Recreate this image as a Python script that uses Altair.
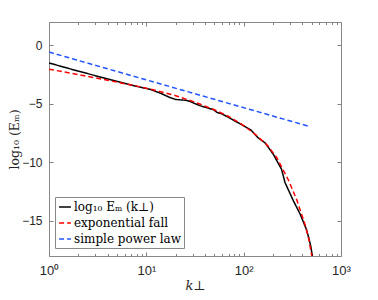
import altair as alt
import pandas as pd

# ---- data ----
black_k = [1, 2, 4.37, 7.94, 11, 14.1, 17.4, 20, 26, 28.2, 35.5, 49, 53.7, 59.6,
           77.6, 102, 117.5, 141, 166, 202, 245, 266, 324, 380, 440, 465, 490, 510]
black_y = [-1.50, -2.20, -2.95, -3.50, -3.76, -4.10, -4.45, -4.62, -4.70, -4.80,
           -5.15, -5.50, -5.75, -5.85, -6.36, -6.92, -7.20, -7.90, -8.33, -9.32,
           -10.59, -11.72, -13.28, -14.41, -15.70, -16.40, -17.20, -18.10]

red_k = [1, 2, 4, 8, 12.6, 20, 31.6, 50, 71, 100, 136, 178, 219, 288, 351, 427, 468, 501]
red_y = [-2.03, -2.50, -2.98, -3.48, -3.85, -4.30, -4.85, -5.50, -6.10, -6.85,
         -7.70, -8.60, -9.60, -11.50, -13.20, -15.30, -16.60, -18.00]

blue_k = [1, 470]
blue_y = [-0.57, -6.92]

names = ["log₁₀ Eₘ (k⊥)", "exponential fall", "simple power law"]
colors = ["#000000", "#ff0000", "#2255ff"]
dashes = [[1, 0], [5, 3], [5, 3]]

major_x = [1, 10, 100, 1000]
minor_x = [2, 3, 4, 5, 6, 7, 8, 9, 20, 30, 40, 50, 60, 70, 80, 90,
           200, 300, 400, 500, 600, 700, 800, 900]
y_ticks = [0, -5, -10, -15]

rows = []
for name, ks, ys in zip(names, [black_k, red_k, blue_k], [black_y, red_y, blue_y]):
    for i, (k, y) in enumerate(zip(ks, ys)):
        rows.append({"k": k, "y": y, "series": name, "i": i})
df = pd.DataFrame(rows)
df_axis = pd.DataFrame({"k": blue_k, "y": blue_y})

xscale = alt.Scale(type="log", domain=[1, 1000], nice=False)
yscale = alt.Scale(domain=[-18, 2], nice=False)

TICK = "#808080"
LBL = "#262626"
SERIF = "DejaVu Serif"

label_expr = ("datum.value == 1 ? '10⁰' : datum.value == 10 ? '10¹' : "
              "datum.value == 100 ? '10²' : '10³'")

legend = alt.Legend(
    title=None, orient="none", legendX=6, legendY=175,
    strokeColor="#888", fillColor="white", padding=3,
    labelFont=SERIF, labelFontSize=12, labelColor="#000",
    symbolType="stroke", symbolSize=140, symbolStrokeWidth=1.5,
    rowPadding=3, labelOffset=2, offset=0,
)

main = alt.Chart(df).mark_line(clip=True, strokeWidth=1.5).encode(
    x=alt.X("k:Q", scale=xscale, axis=alt.Axis(
        orient="bottom", values=major_x, labelExpr=label_expr, domain=False,
        grid=False, tickSize=4, offset=-4, tickColor=TICK, tickWidth=1,
        labelFont="Liberation Sans", labelFontSize=13, labelColor=LBL,
        labelPadding=8, labelFlush=False, labelOverlap=False,
        title="k⊥", titleFont=SERIF, titleFontStyle="italic",
        titleFontSize=13, titleFontWeight="normal", titleColor=LBL,
        titlePadding=2)),
    y=alt.Y("y:Q", scale=yscale, axis=alt.Axis(
        orient="left", values=y_ticks, domain=False, grid=False,
        tickSize=4, offset=-4, tickColor=TICK, tickWidth=1,
        labelFont="Liberation Sans", labelFontSize=12, labelColor=LBL,
        labelPadding=7, labelFlush=False, labelOverlap=False,
        title="log₁₀ (Eₘ)", titleFont=SERIF,
        titleFontSize=12.5, titleFontWeight="normal", titleColor=LBL,
        titlePadding=0)),
    color=alt.Color("series:N", scale=alt.Scale(domain=names, range=colors),
                    legend=legend),
    strokeDash=alt.StrokeDash("series:N", scale=alt.Scale(domain=names, range=dashes),
                              legend=legend),
    order="i:Q",
)


def axis_layer(xaxis, yaxis):
    return alt.Chart(df_axis).mark_line(opacity=0).encode(
        x=alt.X("k:Q", scale=xscale, axis=xaxis),
        y=alt.Y("y:Q", scale=yscale, axis=yaxis),
    )


def tick_axis(orient, values, size):
    return alt.Axis(orient=orient, values=values, domain=False, grid=False,
                    labels=False, title=None, tickSize=size, offset=-size,
                    tickColor=TICK, tickWidth=1)


l2 = axis_layer(tick_axis("bottom", minor_x, 2.5), tick_axis("right", y_ticks, 4))
l3 = axis_layer(tick_axis("top", major_x, 4), None)
l4 = axis_layer(tick_axis("top", minor_x, 2.5), None)

chart = alt.layer(main, l2, l3, l4).resolve_axis(
    x="independent", y="independent"
).properties(
    width=292, height=234,
    autosize=alt.AutoSizeParams(type="none"),
    padding={"left": 41, "top": 14, "right": 29, "bottom": 36},
).configure_view(stroke="#888", strokeWidth=1)

chart.save("out.html", embed_options={"renderer": "svg", "actions": False})
